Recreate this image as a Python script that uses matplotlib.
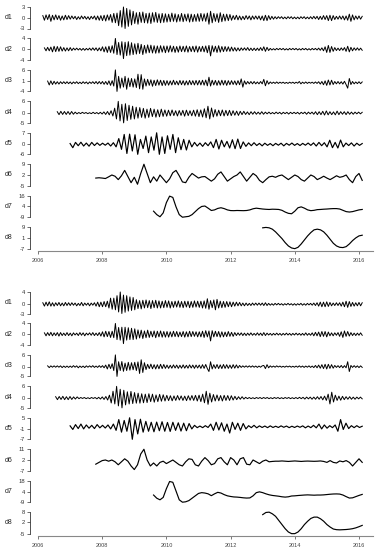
import numpy as np
import matplotlib
matplotlib.use('Agg')
import matplotlib.pyplot as plt

plt.rcParams['font.family'] = ['Liberation Sans', 'DejaVu Sans']

# ---- data (values per series, evenly spaced in time) ----
names = ['d1', 'd2', 'd3', 'd4', 'd5', 'd6', 'd7', 'd8']
t_end = 2016.1
top_start = [2006.15, 2006.2, 2006.3, 2006.6, 2007.0, 2007.8, 2009.6, 2013.0]
bot_start = [2006.15, 2006.2, 2006.3, 2006.55, 2007.0, 2007.8, 2009.6, 2013.0]
top_ticks = [(-3, 0, 3), (-4, 0, 4), (-4, 1, 6), (-5, 0, 6), (-6, 0, 7), (-5, 2, 9), (-9, 4, 16), (-7, 1, 9)]
bot_ticks = [(-3, 0, 4), (-4, 0, 4), (-5, 0, 6), (-5, 0, 6), (-7, -1, 5), (-7, 2, 11), (-9, 4, 18), (-5, 2, 8)]

# upper decomposition
top_d1 = [0.6,-0.7,0.8,-0.5,0.9,-1.0,0.7,-0.6,0.8,-0.5,0.6,-0.7,0.5,-0.6,0.7,-0.5,0.6,
          -0.4,0.5,-0.3,0.4,-0.5,0.3,-0.4,0.5,-0.3,0.4,-0.4,0.3,-0.5,0.4,-0.3,0.5,-0.6,0.5,-0.7,0.6,
          -0.8,0.7,-0.9,0.8,-0.7,0.9,-1.3,1.2,-1.4,1.3,-2.2,2.0,-2.6,3.0,-3.0,2.6,-2.4,2.2,-2.0,1.8,
          -1.6,1.4,-1.8,1.5,-1.3,1.6,-1.4,1.2,-1.5,1.3,-1.6,1.4,-1.2,1.5,-1.3,1.1,-1.4,1.2,-1.3,1.1,
          -1.2,1.0,-1.1,1.3,-1.0,1.1,-1.2,0.9,-1.0,1.2,-1.1,1.0,-0.9,1.1,-1.2,1.0,-1.1,0.9,-1.0,1.1,
          -1.0,1.2,-0.9,1.1,-1.0,1.3,-1.8,1.8,-1.4,1.2,-1.0,1.1,-1.3,1.4,-1.1,1.0,-0.9,1.0,-0.8,0.9,
          -0.7,0.6,-0.5,0.7,-0.6,0.5,-0.6,0.4,-0.5,0.6,-0.4,0.5,-0.6,0.5,-0.4,0.5,-0.4,0.5,-0.6,0.5,
          -0.8,0.7,-0.8,0.6,-0.5,0.4,-0.4,0.3,-0.3,0.3,-0.2,0.3,-0.3,0.2,-0.3,0.3,-0.2,0.3,-0.3,0.2,
          -0.3,0.2,-0.3,0.3,-0.2,0.3,-0.3,0.2,-0.3,0.3,-0.3,0.4,-0.3,0.4,-0.5,0.4,-0.5,0.6,-0.5,0.6,
          -0.8,0.7,-0.8,0.6,-0.5,0.4,-0.4,0.5,-0.4,0.5,-0.6,0.5,-0.7,1.0,-1.0,0.8,-0.6,0.5,-0.4,0.5,-0.4,0.4]
top_d2 = [0.5,-0.6,0.7,-0.6,0.8,-1.0,1.1,-0.9,1.0,-0.8,0.9,-0.7,0.6,-0.7,0.5,-0.6,
          0.6,-0.5,0.4,-0.3,0.4,-0.3,0.3,-0.4,0.3,-0.4,0.3,-0.3,0.4,-0.4,0.5,-0.4,0.5,-0.6,0.5,-0.6,
          0.9,-1.0,0.9,-1.2,1.1,-1.2,1.3,-1.5,4.0,-2.0,2.5,-2.2,2.8,-3.5,2.6,-2.4,2.8,-2.2,2.4,-2.0,
          2.0,-1.8,2.2,-1.6,1.8,-2.0,1.4,-1.5,1.6,-1.3,1.5,-1.4,1.3,-1.5,1.2,-1.4,1.3,-1.1,1.2,-1.3,
          1.2,-1.1,1.3,-1.0,1.1,-1.2,1.0,-1.1,1.2,-0.9,1.1,-1.0,1.2,-1.1,1.0,-0.9,1.1,-1.0,1.2,-1.1,
          1.0,-0.9,1.1,-1.0,1.2,-1.3,1.4,-2.5,1.3,-1.0,1.1,-1.2,1.3,-1.1,1.0,-0.9,1.0,-0.8,0.9,-0.8,
          0.8,-0.7,0.6,-0.7,0.5,-0.6,0.5,-0.4,0.5,-0.4,0.6,-0.5,0.4,-0.5,0.4,-0.5,0.4,-0.5,0.6,-0.5,
          0.9,-0.8,0.7,-0.5,0.3,-0.3,0.2,-0.3,0.3,-0.2,0.3,-0.2,0.3,-0.3,0.2,-0.3,0.3,-0.2,0.3,-0.2,
          0.3,-0.3,0.2,-0.3,0.3,-0.2,0.3,-0.3,0.2,-0.3,0.3,-0.2,0.3,-0.3,0.4,-0.4,0.5,-0.6,0.9,-1.2,
          1.4,-1.2,1.0,-0.8,0.6,-0.5,0.4,-0.5,0.5,-0.4,0.6,-0.8,1.1,-1.0,0.7,-0.6,0.5,-0.4,0.5,-0.4,0.4,-0.4]
top_d3 = [0.8,-1.0,0.9,-0.8,0.7,-0.6,0.5,-0.6,0.5,-0.4,0.5,-0.4,0.5,-0.4,
          0.4,-0.5,0.4,-0.3,0.5,-0.4,0.3,-0.4,0.5,-0.3,0.4,-0.5,0.4,-0.3,0.5,-0.4,0.6,-0.5,0.6,-0.5,
          0.6,-0.7,0.6,-0.8,0.9,-1.2,1.0,-1.5,6.0,-4.0,3.0,-2.5,2.2,-2.0,3.0,-3.0,2.2,-1.8,2.0,-2.0,
          1.8,-2.2,4.0,-2.8,3.8,-3.0,1.8,-1.5,1.6,-1.2,1.4,-1.6,1.2,-1.3,1.4,-1.1,1.2,-1.3,1.1,-1.2,
          1.0,-1.1,0.9,-1.0,1.2,-0.9,0.8,-1.0,1.1,-0.9,1.0,-1.1,0.9,-1.0,1.1,-0.9,1.0,-1.0,1.1,-1.0,
          1.1,-1.0,1.2,-1.1,1.3,-1.4,2.6,-1.5,1.2,-1.0,1.1,-1.2,1.0,-1.1,1.2,-1.0,1.1,-1.2,1.0,-0.9,
          1.0,-0.8,0.9,-1.0,1.0,-0.9,1.8,-2.0,0.9,-0.7,0.6,-0.5,0.6,-0.5,0.6,-0.5,0.4,-0.5,0.6,-0.5,
          1.6,-1.4,1.0,-0.6,0.4,-0.3,0.3,-0.3,0.4,-0.3,0.3,-0.2,0.3,-0.3,0.2,-0.3,0.3,-0.2,0.3,-0.3,
          0.3,-0.2,0.6,-0.5,0.3,-0.3,0.4,-0.3,0.3,-0.2,0.3,-0.3,0.4,-0.3,0.5,-0.6,0.6,-0.9,0.9,-1.2,
          1.3,-1.0,1.2,-0.8,0.6,-0.5,0.6,-0.5,0.5,-0.6,0.7,-0.8,-2.5,2.0,-0.8,0.6,-0.5,0.4,-0.4,0.5,-0.4,0.4]
top_d4 = [0.7,-0.8,0.9,-0.7,0.8,-0.7,0.8,
          -0.7,0.8,-0.6,0.5,-0.4,0.3,-0.3,0.4,-0.2,0.3,-0.3,0.2,-0.3,0.4,-0.3,0.3,-0.4,0.4,
          -0.5,0.6,-0.7,0.8,-0.9,1.2,-1.5,2.5,-3.0,6.0,-4.0,4.5,-5.0,4.8,-3.8,4.0,-3.2,3.5,
          -3.0,3.0,-2.6,2.8,-2.2,2.4,-2.6,2.0,-2.2,2.4,-1.8,2.0,-2.1,1.7,-1.9,2.0,-1.7,1.6,
          -1.6,1.5,-1.4,1.6,-1.3,1.2,-1.5,1.3,-1.2,1.4,-1.6,1.5,-1.3,1.2,-1.4,1.5,-1.6,1.7,
          -1.8,1.6,-2.0,2.2,-2.4,3.5,-3.0,2.6,-2.0,1.8,-1.6,1.5,-1.4,1.6,-1.5,1.4,-1.3,1.4,
          -1.3,1.2,-1.1,1.0,-1.2,0.9,-0.8,0.9,-0.7,0.6,-0.8,0.7,-0.6,0.7,-0.6,0.5,-0.6,0.7,
          -0.6,0.5,-0.4,0.5,-0.4,0.3,-0.4,0.5,-0.3,0.4,-0.5,0.4,-0.3,0.4,-0.5,0.4,-0.3,0.4,
          -0.3,0.4,-0.5,0.4,-0.3,0.5,-0.6,0.5,-0.4,0.5,-0.6,0.7,-0.8,0.7,-0.8,0.9,-1.0,1.1,
          -0.9,0.7,-0.8,0.6,-0.9,1.0,-0.8,0.7,-0.6,0.7,-0.8,0.7,-0.6,0.5,-0.6,0.5,-0.4,0.5,-0.4,0.4]
top_d5 = [0.5,-2.0,1.2,-0.8,1.3,-1.0,0.8,-1.1,1.2,-0.7,0.9,-0.6,
          0.7,-0.5,0.8,-1.0,1.0,-1.5,
          3.5,-3.0,6.0,-5.5,6.2,-4.0,
          5.8,-6.0,3.0,-2.5,5.0,-5.0,
          4.5,-3.5,7.0,-6.0,4.5,-5.5,
          5.2,-3.0,6.0,-5.0,4.0,-3.2,
          3.0,-3.4,2.5,-1.5,1.2,-1.0,
          0.8,-1.2,1.0,-0.8,1.5,-2.0,
          3.0,-2.8,2.5,-1.5,1.8,-2.2,
          2.8,-2.6,3.2,-2.5,1.5,-1.2,
          0.9,-0.8,1.0,-0.7,0.6,-0.9,
          0.7,-0.6,0.5,-0.8,0.6,-0.5,0.7,-0.9,0.6,-0.5,0.8,-0.6,
          0.5,-0.7,0.6,-0.5,0.8,-0.6,0.9,-1.0,1.2,-0.8,1.0,-1.5,
          2.5,-2.0,1.2,-2.2,2.6,-1.5,0.8,-0.7,0.9,-1.0,0.7,-0.6,0.5]
top_d6 = [0.0,0.2,0.0,-0.3,0.8,2.0,1.2,-1.0,1.5,5.0,
          1.0,-3.0,0.5,-4.0,3.0,9.0,3.0,-3.0,0.8,-2.0,
          2.0,-0.5,-3.0,-0.5,3.5,5.0,1.5,-2.5,-3.0,0.5,
          3.0,1.5,0.0,0.8,1.0,-0.5,-2.0,-0.5,2.5,4.0,
          1.0,-2.0,-0.5,1.0,2.0,4.0,1.0,-2.0,0.5,3.0,
          1.5,-1.5,-3.0,-1.0,0.8,1.2,0.5,1.5,2.0,0.5,
          -1.0,0.5,2.0,1.0,-1.0,-2.0,0.0,2.0,1.0,-1.0,
          0.0,1.2,0.0,-1.0,0.2,1.5,0.5,1.0,2.0,-1.0,
          -3.0,1.0,3.0,-1.5]
top_d7 = [-2.0,-6.0,-8.5,-4.0,8.0,15.5,14.0,3.0,-6.0,-9.0,
          -8.5,-8.0,-6.0,-2.5,1.0,3.5,4.0,1.5,-1.2,-0.5,
          1.2,2.0,1.0,-0.5,-1.3,-1.4,-1.2,-1.3,-1.4,-1.2,
          -0.5,0.8,1.5,1.0,0.5,0.2,0.0,0.3,0.2,0.0,
          -1.0,-3.0,-4.5,-5.0,-2.0,2.0,3.0,1.5,-0.5,-1.4,
          -1.0,-0.2,0.0,0.3,0.5,0.8,1.0,1.0,0.5,-1.0,
          -2.5,-3.0,-2.5,-1.5,-0.5,0.0]
top_d8 = [8.5,8.8,8.5,7.5,5.5,3.0,0.5,-2.5,-5.0,-6.5,
          -7.0,-6.0,-3.5,-0.5,2.5,5.0,7.0,7.5,7.0,5.5,
          3.0,0.0,-3.0,-5.0,-6.0,-6.2,-5.5,-3.5,-1.0,1.0,
          2.5,3.0]

# lower decomposition
bot_d1 = [0.5,-0.6,0.7,-0.5,0.8,-0.6,0.5,-0.6,0.5,-0.4,0.6,-0.5,0.4,-0.5,0.6,-0.4,0.5,
          -0.4,0.5,-0.3,0.4,-0.5,0.3,-0.4,0.6,-0.5,0.4,-0.3,0.4,-0.5,0.4,-0.3,0.5,-0.6,0.7,-0.8,0.7,
          -0.8,0.9,-0.8,1.0,-1.2,2.0,-1.6,2.0,-1.8,2.8,-2.5,4.0,-3.0,3.0,-2.6,2.8,-2.2,2.4,-2.0,2.2,
          -1.8,1.5,-1.4,1.2,-1.5,1.3,-1.2,1.4,-1.1,1.2,-1.4,1.2,-1.1,1.3,-1.2,1.1,-1.2,1.0,-1.1,1.2,
          -1.0,1.1,-1.2,0.9,-1.0,1.0,-0.9,1.1,-1.0,0.9,-1.1,1.0,-0.9,1.0,-1.1,0.9,-1.0,1.1,-0.9,1.0,
          -1.0,1.0,-1.2,1.1,-1.3,1.8,-1.6,1.2,-1.1,1.4,-1.8,1.6,-1.2,1.0,-1.1,0.9,-1.0,0.9,-0.8,0.8,
          -0.8,0.7,-0.6,0.7,-0.5,0.6,-0.5,0.4,-0.5,0.4,-0.4,0.3,-0.4,0.4,-0.3,0.4,-0.3,0.4,-0.3,0.4,
          -0.4,0.5,-0.4,0.3,-0.3,0.2,-0.3,0.3,-0.2,0.3,-0.2,0.2,-0.3,0.2,-0.2,0.3,-0.2,0.2,-0.3,0.2,
          -0.3,0.2,-0.2,0.3,-0.3,0.2,-0.3,0.3,-0.2,0.3,-0.3,0.4,-0.4,0.5,-0.6,0.7,-0.8,0.7,-0.8,0.8,
          -0.7,0.6,-0.5,0.4,-0.4,0.5,-0.4,0.5,-0.6,0.7,-0.8,1.0,-1.0,0.9,-0.7,0.6,-0.6,0.5,-0.5,0.6,-0.5,0.5]
bot_d2 = [0.5,-0.6,0.6,-0.5,0.7,-0.6,0.5,-0.5,0.6,-0.7,0.6,-0.5,0.4,-0.5,0.6,-0.5,
          0.4,-0.6,0.5,-0.3,0.4,-0.5,0.6,-0.4,0.5,-0.6,0.4,-0.3,0.5,-0.4,0.6,-0.5,0.4,-0.5,0.6,-0.7,
          0.9,-1.0,1.1,-0.9,1.0,-1.2,1.1,-1.3,4.0,-2.0,2.5,-2.2,2.6,-3.5,2.6,-2.2,2.4,-2.0,2.2,-2.0,
          2.0,-1.8,1.6,-1.4,1.5,-1.6,1.2,-1.3,1.5,-1.2,1.1,-1.0,1.2,-1.3,1.1,-1.0,1.2,-1.1,1.0,-1.1,
          1.0,-1.1,0.9,-1.0,1.1,-0.9,1.0,-1.0,0.8,-0.9,1.0,-1.1,0.9,-1.0,1.1,-0.9,1.0,-0.8,0.9,-1.0,
          0.9,-1.0,1.1,-1.2,1.3,-1.0,1.2,-2.5,1.3,-1.0,1.1,-0.9,1.0,-1.1,0.9,-1.0,0.8,-0.9,1.0,-0.8,
          0.7,-0.8,0.6,-0.5,0.5,-0.4,0.5,-0.5,0.4,-0.5,0.4,-0.4,0.5,-0.4,0.3,-0.4,0.5,-0.4,0.4,-0.5,
          0.6,-0.5,0.4,-0.3,0.3,-0.4,0.3,-0.3,0.4,-0.3,0.3,-0.4,0.3,-0.3,0.4,-0.3,0.3,-0.4,0.3,-0.3,
          0.4,-0.3,0.3,-0.4,0.3,-0.4,0.5,-0.4,0.3,-0.4,0.5,-0.6,0.7,-0.6,0.8,-0.9,1.0,-0.8,1.0,-1.0,
          0.8,-0.6,0.5,-0.6,0.5,-0.4,0.6,-0.8,0.9,-1.2,1.2,-0.8,1.0,-0.7,0.6,-0.5,0.4,-0.5,0.4,-0.4,0.5,-0.4]
bot_d3 = [0.4,-0.5,0.4,-0.3,0.4,-0.3,0.4,-0.3,0.4,-0.5,0.3,-0.4,0.3,-0.4,
          0.3,-0.4,0.5,-0.3,0.4,-0.6,0.3,-0.4,0.3,-0.5,0.4,-0.3,0.4,-0.3,0.5,-0.4,0.3,-0.4,0.5,-0.4,
          0.5,-0.6,0.8,-1.2,1.2,-1.0,1.5,-2.0,6.0,-5.0,2.5,-2.0,2.6,-2.4,1.8,-2.0,2.2,-1.8,2.0,-1.6,
          2.2,-2.0,2.4,-3.5,3.5,-3.0,2.0,-1.5,1.2,-1.0,1.3,-1.1,1.0,-1.2,1.0,-1.1,1.2,-1.0,1.1,-0.9,
          0.8,-0.9,0.7,-0.8,0.9,-0.7,0.8,-0.9,0.7,-0.8,0.9,-0.8,0.7,-0.8,0.9,-0.7,0.8,-0.9,0.8,-0.7,
          0.8,-0.9,1.0,-0.9,1.1,-1.0,-2.5,2.5,-1.2,1.0,-0.9,1.1,-1.0,0.9,-1.0,1.1,-0.9,1.0,-0.9,0.8,
          -0.9,1.0,-0.8,0.9,-0.7,0.6,-0.4,0.4,-0.3,0.4,-0.3,0.4,-0.3,0.4,-0.3,0.3,-0.4,0.3,-0.3,0.4,
          0.6,-1.0,1.0,-0.6,0.4,-0.3,0.3,-0.3,0.4,-0.2,0.3,-0.3,0.2,-0.3,0.3,-0.2,0.3,-0.3,0.2,-0.3,
          0.3,-0.3,0.4,-0.3,0.3,-0.4,0.3,-0.3,0.4,-0.4,0.3,-0.5,0.6,-0.6,0.8,-0.8,1.0,-1.0,1.2,-1.2,
          1.2,-0.9,1.0,-0.8,0.6,-0.4,0.5,-0.5,0.6,-0.6,0.5,-0.6,2.5,-2.5,0.6,-0.4,0.5,-0.4,0.4,-0.5,0.4,-0.4]
bot_d4 = [0.7,-0.8,0.8,-0.7,0.9,-0.8,0.7,-0.8,
          0.8,-0.7,0.6,-0.5,0.6,-0.3,0.3,-0.2,0.3,-0.3,0.2,-0.3,0.3,-0.2,0.3,-0.4,0.4,-0.5,
          0.6,-0.7,0.8,-1.0,1.5,-2.5,3.5,-3.0,6.0,-4.0,4.5,-5.0,4.0,-3.5,3.2,-3.0,3.4,-2.8,
          2.8,-2.6,2.5,-2.6,2.2,-2.4,2.0,-2.3,2.2,-1.8,2.0,-2.1,1.6,-1.8,1.9,-1.6,1.7,-1.5,
          1.4,-1.3,1.2,-1.4,1.1,-1.2,1.3,-1.0,1.1,-1.2,1.0,-1.3,1.2,-1.1,1.3,-1.2,1.4,-1.5,
          1.5,-1.8,2.0,-2.4,3.5,-3.2,2.5,-2.0,1.8,-1.5,1.6,-1.4,1.3,-1.5,1.4,-1.2,1.3,-1.2,
          1.2,-1.0,0.9,-0.8,0.7,-0.6,0.7,-0.5,0.4,-0.3,0.3,-0.3,0.2,-0.3,0.3,-0.2,0.3,-0.3,
          0.3,-0.2,0.3,-0.3,0.2,-0.3,0.3,-0.2,0.3,-0.3,0.2,-0.3,0.3,-0.2,0.3,-0.3,0.2,-0.3,
          0.3,-0.3,0.4,-0.3,0.4,-0.5,0.5,-0.4,0.5,-0.6,0.5,-0.6,0.7,-0.6,0.8,-0.9,1.0,-1.2,
          2.0,-3.0,3.0,-2.0,1.5,-1.2,1.0,-1.1,0.9,-0.8,0.7,-0.6,0.7,-0.6,0.5,-0.6,0.5,-0.4,0.5,-0.4]
bot_d5 = [0.5,-1.5,1.2,-1.0,1.5,-1.2,1.0,-0.8,0.8,-1.0,1.2,-0.6,
          0.8,-0.7,1.0,-1.2,1.5,-2.0,
          4.0,-3.0,3.5,-2.5,5.0,-7.0,
          4.0,-4.0,4.2,-3.0,3.0,-2.5,
          2.5,-2.8,2.6,-2.2,2.8,-2.5,
          2.4,-2.6,2.5,-2.0,2.2,-2.4,
          2.0,-2.2,1.8,-1.2,0.8,-0.5,
          0.4,-0.5,0.6,-0.4,1.5,-2.0,
          2.5,-1.8,2.2,-2.5,1.5,-3.5,
          2.5,-1.5,2.0,-2.0,1.8,-1.2,
          0.6,-0.5,0.8,-0.6,0.5,-0.4,
          0.4,-0.5,0.5,-0.4,0.3,-0.4,0.5,-0.3,0.4,-0.5,0.3,-0.4,
          0.4,-0.3,0.5,-0.6,0.4,-0.5,0.8,-0.6,1.5,-1.2,1.0,-0.8,
          0.6,-0.5,1.0,-2.5,4.0,-1.5,2.0,-1.0,0.6,-0.5,0.6,-0.4,0.3]
bot_d6 = [-1.5,0.0,1.5,2.0,1.0,2.0,0.5,-2.0,0.5,3.0,
          1.0,-3.0,-6.0,-2.0,7.0,11.0,2.0,-3.0,-0.5,-3.0,
          0.0,1.0,-1.0,0.5,2.0,0.0,-2.0,-3.0,0.5,3.0,
          2.5,-2.0,-3.0,1.0,4.0,1.5,-2.0,-1.0,3.0,4.0,
          0.5,-2.0,4.0,2.0,-2.0,3.0,4.0,-1.5,-2.0,2.0,
          0.5,-1.0,1.0,2.0,0.5,0.8,1.0,1.0,1.2,1.0,
          0.8,1.0,1.2,1.0,0.8,1.0,1.1,1.0,0.9,1.0,
          1.2,0.8,0.0,1.5,0.0,-0.5,1.2,0.5,1.5,0.0,
          -3.0,0.0,3.0,0.0]
bot_d7 = [0.0,-4.0,-6.0,-3.0,8.0,17.0,16.0,5.0,-6.0,-9.0,
          -8.5,-7.0,-4.0,-1.0,2.0,3.0,2.5,1.5,-0.8,1.5,
          3.4,2.5,0.5,-1.0,-1.8,-2.4,-2.6,-3.0,-3.5,-3.8,
          -3.6,-1.0,3.0,4.0,3.0,1.5,0.3,-0.5,-1.0,-1.5,
          -2.2,-2.6,-2.2,-1.2,-1.0,-0.6,-0.3,0.0,0.2,0.0,
          -0.2,0.0,0.0,0.2,0.6,1.0,1.3,1.4,1.2,0.0,
          -2.0,-3.8,-3.5,-2.0,-0.5,0.8]
bot_d8 = [6.5,7.8,8.0,7.0,5.5,3.0,0.5,-2.0,-4.0,-5.0,
          -5.0,-4.0,-2.0,0.5,2.5,4.2,5.0,5.0,4.0,2.5,
          0.5,-1.0,-2.2,-2.6,-2.7,-2.6,-2.5,-2.3,-2.0,-1.5,
          -0.8,0.0]

top_series = [top_d1, top_d2, top_d3, top_d4, top_d5, top_d6, top_d7, top_d8]
bot_series = [bot_d1, bot_d2, bot_d3, bot_d4, bot_d5, bot_d6, bot_d7, bot_d8]
years = [2006, 2008, 2010, 2012, 2014, 2016]

# ---- layout (pixels) ----
W, H = 378, 550
fig = plt.figure(figsize=(W / 100, H / 100), dpi=100)
px_per_year = 32.1
ax_left = 30
x0 = 2006 - 8 / px_per_year
x1 = x0 + (376 - ax_left) / px_per_year
row_h = 21.5
pitch = 31.45

panels = [(top_series, top_start, top_ticks, 7), (bot_series, bot_start, bot_ticks, 292)]
for series, starts, ticks, top0 in panels:
    for i in range(8):
        top = top0 + i * pitch
        ax = fig.add_axes([ax_left / W, 1 - (top + row_h) / H, (376 - ax_left) / W, row_h / H])
        vals = series[i]
        t = np.linspace(starts[i], t_end, len(vals))
        lw = 0.7 if i < 4 else 0.85
        ax.plot(t, vals, color='black', lw=lw, clip_on=False)
        lo, mid, hi = ticks[i]
        ax.set_xlim(x0, x1)
        ax.set_ylim(lo, hi)
        ax.set_yticks([lo, mid, hi])
        ax.set_yticklabels([str(lo), str(mid), str(hi)])
        ax.tick_params(axis='y', length=2.2, width=0.5, pad=1.2, labelsize=4.2,
                       colors='#333333')
        ax.spines['left'].set_linewidth(0.6)
        ax.spines['left'].set_color('#333333')
        ax.spines['top'].set_visible(False)
        ax.spines['right'].set_visible(False)
        ax.patch.set_visible(False)
        fig.text(9 / W, 1 - (top + row_h / 2) / H, names[i], fontsize=5,
                 ha='center', va='center', color='#222222')
        if i == 7:
            ax.spines['bottom'].set_position(('outward', 2))
            ax.spines['bottom'].set_bounds(2006, 2016.45)
            ax.spines['bottom'].set_color('#888888')
            ax.spines['bottom'].set_linewidth(0.8)
            ax.set_xticks(years)
            ax.set_xticklabels([str(y) for y in years])
            ax.tick_params(axis='x', length=2.2, width=0.5, pad=2.5, labelsize=4,
                           colors='#444444')
        else:
            ax.spines['bottom'].set_visible(False)
            ax.set_xticks([])

fig.savefig('out.png', dpi=100)
